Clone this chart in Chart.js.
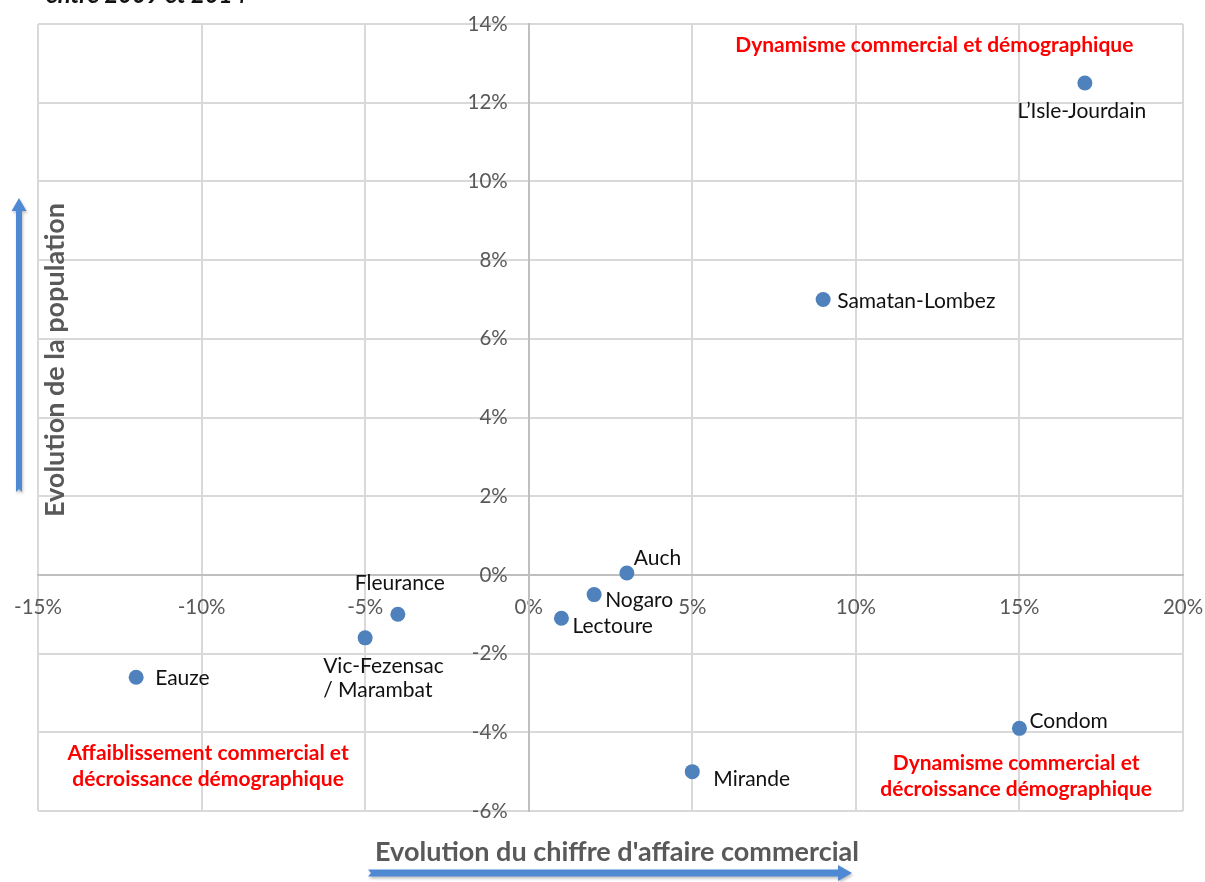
<!DOCTYPE html>
<html>
<head>
<meta charset="utf-8">
<script src="https://cdn.jsdelivr.net/npm/chart.js@4/dist/chart.umd.min.js"></script>
<style>
  html, body { margin: 0; padding: 0; background: #fff; overflow: hidden; }
  #wrap { position: relative; width: 1205px; height: 882px; }
  canvas { display: block; }
</style>
</head>
<body>
<div id="wrap"><canvas id="c" width="1205" height="882"></canvas></div>
<script>
// ---- Data ----
const communes = ["L\u2019Isle-Jourdain", "Samatan-Lombez", "Auch", "Nogaro", "Lectoure", "Fleurance", "Vic-Fezensac\n/ Marambat", "Eauze", "Mirande", "Condom"];
const caEvolution = [17, 9, 3, 2, 1, -4, -5, -12, 5, 15];          // % chiffre d'affaire commercial
const popEvolution = [12.5, 7.0, 0.05, -0.5, -1.1, -1.0, -1.6, -2.6, -5.0, -3.9]; // % population
const xTicks = [-15, -10, -5, 0, 5, 10, 15, 20];
const yTicks = [-6, -4, -2, 0, 2, 4, 6, 8, 10, 12, 14];
const quadrantTexts = [
  { text: ["Dynamisme commercial et d\u00e9mographique"], x: 12.4, y: 13.45 },
  { text: ["Affaiblissement commercial et", "d\u00e9croissance d\u00e9mographique"], x: -9.8, y: -4.87 },
  { text: ["Dynamisme commercial et", "d\u00e9croissance d\u00e9mographique"], x: 14.9, y: -5.11 }
];
const titleText = "entre 2009 et 2014";
const xTitle = "Evolution du chiffre d'affaire commercial";
const yTitle = "Evolution de la population";

// label placement per point (style)
const labelPlacement = {
  "L\u2019Isle-Jourdain": { dx: -3, dy: 28, align: "center" },
  "Samatan-Lombez": { dx: 14, dy: 2, align: "left" },
  "Auch": { dx: 7, dy: -15, align: "left" },
  "Nogaro": { dx: 11, dy: 6, align: "left" },
  "Lectoure": { dx: 11, dy: 8, align: "left" },
  "Fleurance": { dx: 2, dy: -31, align: "center" },
  "Vic-Fezensac\n/ Marambat": { dx: -42, dy: 28, align: "left" },
  "Eauze": { dx: 19, dy: 1, align: "left" },
  "Mirande": { dx: 21, dy: 8, align: "left" },
  "Condom": { dx: 10, dy: -7, align: "left" }
};

const FONT = "Lato, 'Open Sans', sans-serif";
const TICK_FONT = "20.5px " + FONT;
const points = caEvolution.map((v, i) => ({ x: v, y: popEvolution[i] }));

const labelsPlugin = {
  id: 'pointLabels',
  afterDatasetsDraw(chart) {
    const ctx = chart.ctx;
    const xs = chart.scales.x, ys = chart.scales.y;
    ctx.save();
    // y tick labels, left of the vertical zero axis
    ctx.font = TICK_FONT;
    ctx.fillStyle = "#595959";
    ctx.textAlign = "right";
    ctx.textBaseline = "middle";
    const x0 = xs.getPixelForValue(0);
    ys.ticks.forEach(t => {
      ctx.fillText(t.value + '%', x0 - 21, ys.getPixelForValue(t.value));
    });

    const meta = chart.getDatasetMeta(0);
    ctx.font = "21px " + FONT;
    ctx.fillStyle = "#111";
    meta.data.forEach((el, i) => {
      const name = communes[i];
      const p = labelPlacement[name] || { dx: 12, dy: 0, align: "left" };
      const lines = name.split("\n");
      ctx.textAlign = p.align;
      lines.forEach((ln, k) => {
        ctx.fillText(ln, el.x + p.dx, el.y + p.dy + k * 24);
      });
    });
    // quadrant annotations
    ctx.font = "bold 21px " + FONT;
    ctx.fillStyle = "#ff0000";
    ctx.textAlign = "center";
    quadrantTexts.forEach(q => {
      const cx = xs.getPixelForValue(q.x);
      const cy = ys.getPixelForValue(q.y);
      const n = q.text.length;
      q.text.forEach((ln, k) => {
        ctx.fillText(ln, cx, cy + (k - (n - 1) / 2) * 26);
      });
    });
    ctx.restore();
  },
  afterDraw(chart) {
    const ctx = chart.ctx;
    ctx.save();
    // cut-off title
    ctx.font = "italic bold 24px " + FONT;
    ctx.fillStyle = "#111";
    ctx.textAlign = "left";
    ctx.textBaseline = "alphabetic";
    ctx.fillText(titleText, 46, 3);
    // x title
    ctx.font = "bold 27px " + FONT;
    ctx.fillStyle = "#595959";
    ctx.textAlign = "center";
    ctx.textBaseline = "middle";
    ctx.fillText(xTitle, 617, 852);
    // y title
    ctx.save();
    ctx.translate(55, 360);
    ctx.rotate(-Math.PI / 2);
    ctx.fillText(yTitle, 0, 0);
    ctx.restore();
    // arrows
    ctx.shadowColor = "rgba(0,0,0,0.25)";
    ctx.shadowBlur = 3;
    ctx.shadowOffsetX = 1;
    ctx.shadowOffsetY = 2;
    ctx.fillStyle = "#4f88d3";
    // horizontal
    ctx.beginPath();
    ctx.moveTo(368, 869.5);
    ctx.lineTo(838, 869.5);
    ctx.lineTo(838, 865);
    ctx.lineTo(852, 873);
    ctx.lineTo(838, 881);
    ctx.lineTo(838, 876.5);
    ctx.lineTo(368, 876.5);
    ctx.lineTo(371, 873);
    ctx.closePath();
    ctx.fill();
    // vertical
    ctx.beginPath();
    ctx.moveTo(16, 492);
    ctx.lineTo(16, 211);
    ctx.lineTo(11.5, 211);
    ctx.lineTo(19, 198);
    ctx.lineTo(26.5, 211);
    ctx.lineTo(22, 211);
    ctx.lineTo(22, 492);
    ctx.lineTo(19, 489);
    ctx.closePath();
    ctx.fill();
    ctx.restore();
  }
};

const noPad = s => { s.paddingLeft = 0; s.paddingRight = 0; s.paddingTop = 0; s.paddingBottom = 0; };

new Chart(document.getElementById('c'), {
  type: 'scatter',
  data: {
    datasets: [{
      data: points,
      backgroundColor: '#4f81bd',
      borderColor: '#4f81bd',
      pointRadius: 7.5,
      pointHoverRadius: 7.5,
      borderWidth: 0
    }]
  },
  options: {
    responsive: false,
    animation: false,
    events: [],
    layout: { padding: { left: 38, right: 22, top: 24, bottom: 71 } },
    plugins: { legend: { display: false }, tooltip: { enabled: false } },
    scales: {
      x: {
        type: 'linear',
        position: { y: 0 },
        min: xTicks[0], max: xTicks[xTicks.length - 1],
        afterBuildTicks: s => { s.ticks = xTicks.map(v => ({ value: v })); },
        afterFit: noPad,
        grid: { color: '#d9d9d9', lineWidth: 2, drawTicks: false },
        border: { color: '#bfbfbf', width: 2 },
        ticks: {
          padding: 20,
          color: '#595959',
          font: { family: FONT, size: 20.5 },
          callback: v => v + '%'
        }
      },
      y: {
        type: 'linear',
        position: { x: 0 },
        min: yTicks[0], max: yTicks[yTicks.length - 1],
        afterBuildTicks: s => { s.ticks = yTicks.map(v => ({ value: v })); },
        afterFit: noPad,
        grid: { color: '#d9d9d9', lineWidth: 2, drawTicks: false },
        border: { color: '#bfbfbf', width: 2 },
        ticks: { display: false }
      }
    }
  },
  plugins: [labelsPlugin]
});
</script>
</body>
</html>
